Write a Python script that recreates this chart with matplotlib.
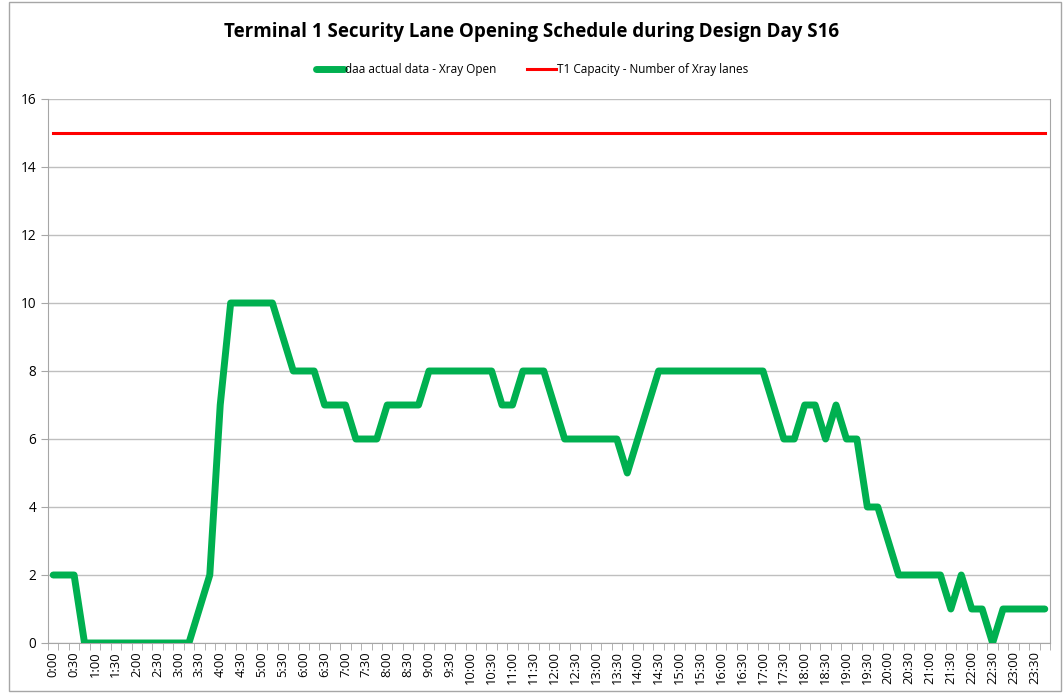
import matplotlib
matplotlib.use('Agg')
from matplotlib import pyplot as plt
import numpy as np

# 15-minute slots over the day, labels shown every 30 minutes
slot_labels = ['%d:%02d' % (h, m) for h in range(24) for m in (0, 15, 30, 45)]

xray_open = [2, 2, 2, 0, 0, 0, 0, 0, 0, 0, 0, 0, 0, 0, 1, 2,
             7, 10, 10, 10, 10, 10, 9, 8, 8, 8, 7, 7, 7, 6, 6, 6,
             7, 7, 7, 7, 8, 8, 8, 8, 8, 8, 8, 7, 7, 8, 8, 8,
             7, 6, 6, 6, 6, 6, 6, 5, 6, 7, 8, 8, 8, 8, 8, 8,
             8, 8, 8, 8, 8, 7, 6, 6, 7, 7, 6, 7, 6, 6, 4, 4,
             3, 2, 2, 2, 2, 2, 1, 2, 1, 1, 0, 1, 1, 1, 1, 1]
capacity = [15] * len(slot_labels)


def main():
    plt.rcParams['font.family'] = ['Open Sans', 'DejaVu Sans']
    fig = plt.figure(figsize=(10.64, 6.93), dpi=100)
    ax = fig.add_axes([48 / 1064, 50 / 693, 1002 / 1064, 544 / 693])

    x = np.arange(len(slot_labels))
    ax.plot(x, xray_open, color='#00b050', lw=5, solid_joinstyle='round',
            solid_capstyle='round', label='daa actual data - Xray Open', zorder=3)
    ax.plot(x, capacity, color='#ff0000', lw=2.2,
            label='T1 Capacity - Number of Xray lanes', zorder=3)

    ax.set_xlim(-0.5, len(slot_labels) - 0.5)
    ax.set_ylim(0, 16)
    ax.set_yticks(range(0, 17, 2))
    ax.set_xticks(x[::2])
    ax.set_xticklabels(slot_labels[::2], rotation=90, fontsize=9.3)
    ax.set_xticks(np.arange(-0.5, len(slot_labels), 1), minor=True)
    ax.tick_params(axis='x', which='major', length=0, pad=6)
    ax.tick_params(axis='x', which='minor', length=5, color='#a6a6a6')
    ax.tick_params(axis='y', length=5, color='#a6a6a6', labelsize=9.8)

    ax.grid(axis='y', color='#bfbfbf', lw=1)
    ax.set_axisbelow(True)
    for side in ['left', 'bottom', 'right']:
        ax.spines[side].set_color('#a6a6a6')
    ax.spines['top'].set_visible(False)

    fig.text(0.5, 1 - 32 / 693, 'Terminal 1 Security Lane Opening Schedule during Design Day S16',
             ha='center', va='center', fontsize=13.5, fontweight='bold')
    fig.legend(loc='center', bbox_to_anchor=(0.5, 1 - 70 / 693), ncol=2, frameon=False,
               fontsize=8.5, handlelength=2.4, handletextpad=0.1, columnspacing=2.6)

    fig.patches.append(plt.Rectangle((0.008, 0.003), 0.989, 0.994, transform=fig.transFigure,
                                     fill=False, edgecolor='#a6a6a6', lw=1))

    plt.savefig('out.png', dpi=100)


if __name__ == '__main__':
    main()
